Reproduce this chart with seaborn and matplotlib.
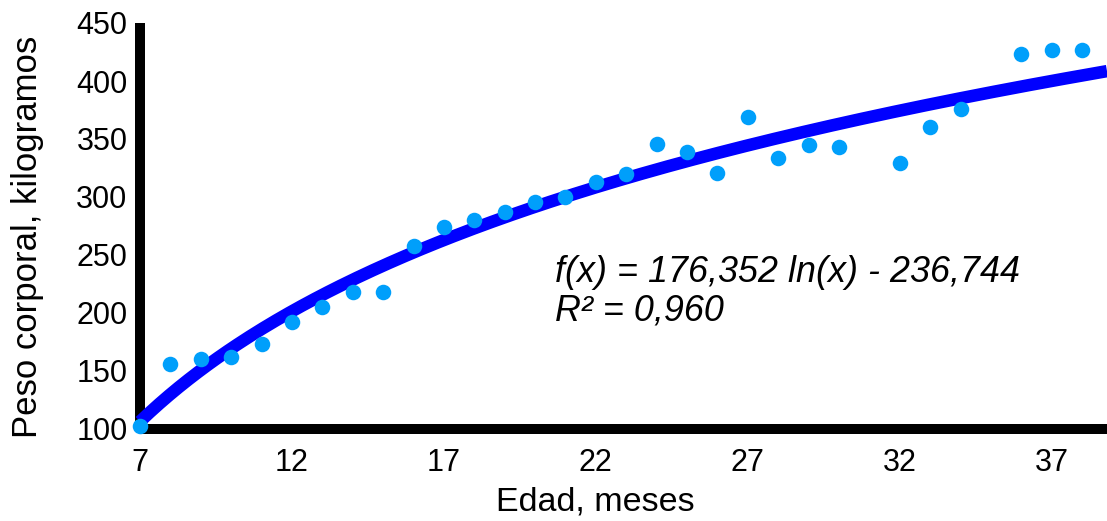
import numpy as np
import pandas as pd
import matplotlib
matplotlib.use("Agg")
import matplotlib.pyplot as plt
import seaborn as sns

# Body weight by age
edad_meses = [7, 8, 9, 10, 11, 12, 13, 14, 15, 16, 17, 18, 19, 20, 21, 22, 23,
              24, 25, 26, 27, 28, 29, 30, 32, 33, 34, 36, 37, 38]
peso_kg = [103, 156, 160, 162, 173, 192, 205, 218, 218, 258, 274, 280, 287, 296,
           300, 313, 320, 346, 339, 321, 369, 334, 345, 343, 329, 360, 376, 423,
           427, 427]

# Logarithmic trend line coefficients: f(x) = a ln(x) + b
coef_a = 176.352
coef_b = -236.744
r2 = 0.960

x_ticks = [7, 12, 17, 22, 27, 32, 37]
y_ticks = [100, 150, 200, 250, 300, 350, 400, 450]
x_min, x_max = 7, 38.82

sns.set_theme(style="white")
plt.rcParams["font.family"] = ["Liberation Sans", "DejaVu Sans"]

fig = plt.figure(figsize=(11.07, 5.21), dpi=100)
ax = fig.add_axes([140 / 1107, 1 - 429 / 521, 1 - 140 / 1107, (429 - 23) / 521])

df = pd.DataFrame({"edad": edad_meses, "peso": peso_kg})
xs = np.linspace(x_min, x_max, 300)
trend = pd.DataFrame({"edad": xs, "peso": coef_a * np.log(xs) + coef_b})

sns.lineplot(data=trend, x="edad", y="peso", ax=ax, color="#0000ff",
             linewidth=9, zorder=3, clip_on=False, solid_capstyle="butt")
sns.scatterplot(data=df, x="edad", y="peso", ax=ax, color="#009ffb",
                s=125, linewidth=0, zorder=4, clip_on=False)

ax.set_xlim(x_min, x_max)
ax.set_ylim(100, 450)
ax.set_xticks(x_ticks)
ax.set_yticks(y_ticks)
ax.set_xticklabels([str(v) for v in x_ticks])
ax.set_yticklabels([str(v) for v in y_ticks])

for side in ["top", "right"]:
    ax.spines[side].set_visible(False)
for side in ["left", "bottom"]:
    ax.spines[side].set_linewidth(7.2)
    ax.spines[side].set_color("black")
    ax.spines[side].set_capstyle("butt")

ax.tick_params(axis="both", which="major", direction="out", length=6, width=5,
               color="black", labelsize=22, labelcolor="black")
ax.tick_params(axis="x", pad=8)
ax.tick_params(axis="y", pad=3)

ax.set_xlabel("Edad, meses", fontsize=24.5, color="black")
ax.set_ylabel("Peso corporal, kilogramos", fontsize=25, color="black")
ax.xaxis.set_label_coords(0.4705, -0.142)
ax.yaxis.set_label_coords(-0.099, 0.472)

eq_text = f"f(x) = {coef_a:.3f} ln(x) - {abs(coef_b):.3f}".replace(".", ",")
r2_text = f"R² = {r2:.3f}".replace(".", ",")
ax.text(0.429, 0.362, eq_text, transform=ax.transAxes, fontsize=25.8,
        style="italic", color="black", ha="left", va="baseline")
ax.text(0.429, 0.268, r2_text, transform=ax.transAxes, fontsize=25.8,
        style="italic", color="black", ha="left", va="baseline")

fig.savefig("out.png", dpi=100)
